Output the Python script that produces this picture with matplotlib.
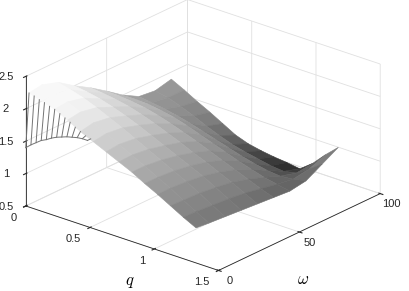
import numpy as np
import matplotlib
matplotlib.use("Agg")
import matplotlib.pyplot as plt

plt.rcParams['font.family'] = ['Liberation Sans', 'DejaVu Sans']
plt.rcParams['mathtext.fontset'] = 'cm'

# grid
q = [0, 0.1, 0.2, 0.3, 0.4, 0.5, 0.6, 0.7, 0.8, 0.9, 1.0, 1.1, 1.2, 1.3]
omega = [2, 10, 20, 30, 40, 50, 60, 70, 80, 90]
z_table = [
    [2.22, 2.25, 2.17, 2.00, 1.85, 1.68, 1.50, 1.36, 1.33, 1.39],
    [2.16, 2.19, 2.12, 1.97, 1.83, 1.67, 1.50, 1.33, 1.29, 1.29],
    [2.10, 2.12, 2.06, 1.93, 1.80, 1.65, 1.49, 1.30, 1.22, 1.18],
    [2.00, 2.03, 1.98, 1.87, 1.76, 1.62, 1.46, 1.26, 1.14, 1.08],
    [1.89, 1.93, 1.89, 1.80, 1.70, 1.57, 1.42, 1.21, 1.05, 0.97],
    [1.80, 1.83, 1.80, 1.72, 1.63, 1.51, 1.36, 1.15, 0.97, 0.86],
    [1.71, 1.73, 1.70, 1.63, 1.55, 1.44, 1.29, 1.09, 0.90, 0.79],
    [1.62, 1.63, 1.60, 1.54, 1.47, 1.37, 1.22, 1.03, 0.85, 0.75],
    [1.53, 1.53, 1.50, 1.45, 1.38, 1.29, 1.15, 0.97, 0.81, 0.72],
    [1.42, 1.42, 1.40, 1.36, 1.30, 1.21, 1.08, 0.92, 0.77, 0.70],
    [1.32, 1.32, 1.30, 1.27, 1.21, 1.13, 1.02, 0.88, 0.75, 0.67],
    [1.21, 1.20, 1.19, 1.16, 1.12, 1.05, 0.96, 0.86, 0.79, 0.82],
    [1.10, 1.09, 1.07, 1.05, 1.02, 0.97, 0.92, 0.88, 0.92, 1.02],
    [1.00, 0.98, 0.96, 0.94, 0.92, 0.90, 0.88, 0.92, 1.06, 1.20],
]

# the spiky strip at the low omega edge
spike_q = [0, 0.04, 0.08, 0.12, 0.16, 0.2, 0.24, 0.28, 0.32, 0.36, 0.4, 0.44, 0.48]
spike_low = [1.40, 1.47, 1.53, 1.59, 1.63, 1.68, 1.72, 1.75, 1.78, 1.80, 1.82, 1.83, 1.83]
spike_high = [2.22, 2.20, 2.17, 2.15, 2.12, 2.10, 2.06, 2.02, 1.98, 1.93, 1.89, 1.85, 1.83]

q_ticks = [0, 0.5, 1, 1.5]
omega_ticks = [0, 50, 100]
z_ticks = [0.5, 1, 1.5, 2, 2.5]
q_labels = ['0', '0.5', '1', '1.5']
omega_labels = ['0', '50', '100']
z_labels = ['0.5', '1', '1.5', '2', '2.5']

# height to grey level, the mesh looks lighter than a plain gray map
gray_z = [0.67, 0.85, 1.0, 1.4, 2.1]
gray_v = [0.12, 0.36, 0.47, 0.62, 0.97]

fig = plt.figure(figsize=(4.09, 2.91), dpi=100)
# axes much bigger than the figure so the 3d clip box does not cut the surface
S = 500
ax = fig.add_axes([(203 - 0.5135 * S) / 409, (156 - 0.5135 * S) / 291, S / 409, S / 291],
                  projection='3d', proj_type='ortho')
ax.computed_zorder = False
ax.view_init(elev=23.5, azim=-50)
ax.set_box_aspect((251, 251, 141), zoom=1.277 * 291 / S)

Q, W = np.meshgrid(q, omega, indexing='ij')
Z = np.array(z_table)
mid = (Z[:-1, :-1] + Z[1:, :-1] + Z[:-1, 1:] + Z[1:, 1:]) / 4
colors = plt.get_cmap('gray')(np.interp(mid, gray_z, gray_v))
surf = ax.plot_surface(Q, W, Z, facecolors=colors, rstride=1, cstride=1, shade=False,
                       linewidth=0.4, zorder=2)
surf.set_edgecolor(colors.reshape(-1, 4))

# spikes
ax.plot(spike_q, [0] * len(spike_q), spike_low, color='0.45', lw=0.7, zorder=3)
for sq, lo, hi in zip(spike_q, spike_low, spike_high):
    ax.plot([sq, sq], [0, 2], [lo, hi], color='0.45', lw=0.7, zorder=3)

ax.set_xlim(0, 1.5, view_margin=0)
ax.set_ylim(0, 100, view_margin=0)
ax.set_zlim(0.5, 2.5, view_margin=0)
ax.set_xticks(q_ticks, q_labels, ha='right', va='center')
ax.set_yticks(omega_ticks, omega_labels, va='center')
ax.set_zticks(z_ticks, z_labels, va='center')
ax.zaxis.set_ticks_position('lower')
ax.tick_params(labelsize=8, colors='0.15', pad=2.5)

for axis in (ax.xaxis, ax.yaxis, ax.zaxis):
    axis.set_pane_color((1, 1, 1, 0))
    axis.pane.set_edgecolor((1, 1, 1, 0))
    axis.line.set_color('0.15')
    axis.line.set_linewidth(0.6)
    axis._axinfo['grid'].update(color='0.88', linewidth=0.6)
    axis._axinfo['tick'].update(inward_factor=0.17, outward_factor=0.085)

fig.text(130 / 409, 1 - 283 / 291, r'$q$', fontsize=12, ha='center', va='center')
fig.text(303 / 409, 1 - 280 / 291, r'$\omega$', fontsize=12, ha='center', va='center')

fig.savefig('out.png', dpi=100)
